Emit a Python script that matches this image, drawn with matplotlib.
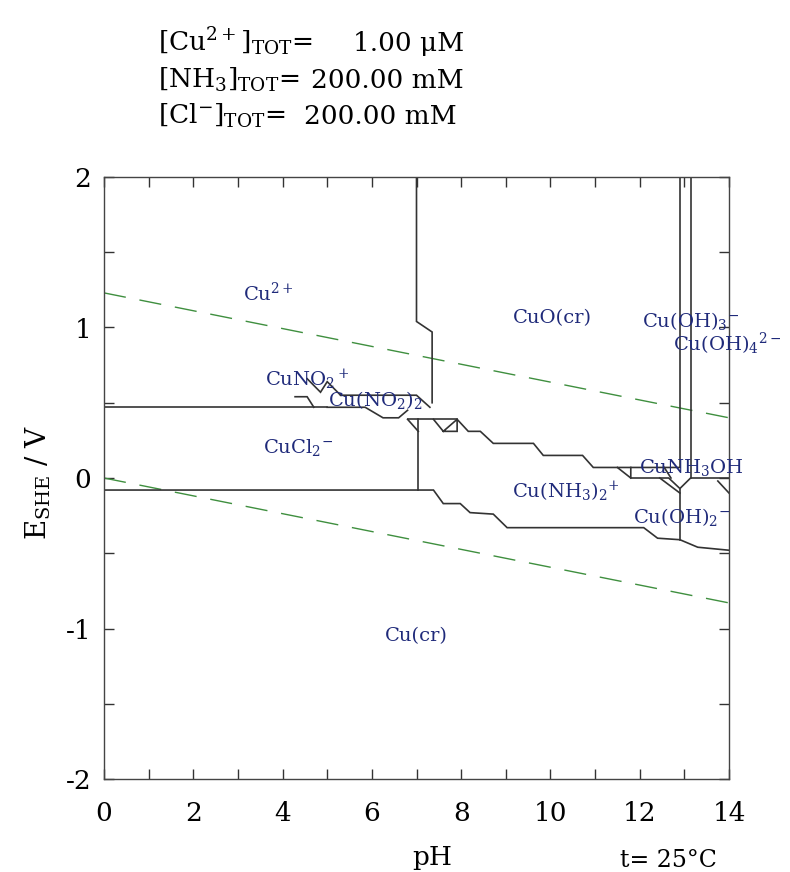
import matplotlib
matplotlib.use('Agg')
import matplotlib.pyplot as plt
from matplotlib.ticker import MultipleLocator

plt.rcParams['font.family'] = ['DejaVu Serif']
plt.rcParams['mathtext.fontset'] = 'dejavuserif'

# ---------------- data ----------------
# water stability lines (pH, E)
water_ph = [0, 14]
o2_e = [1.23, 0.40]
h2_e = [0.00, -0.83]

# predominance boundaries (pH list, E list)
cu2_cucl2_ph = [0, 5.0]
cu2_cucl2_e = [0.47, 0.47]

cu_lower_ph = [0, 7.38, 7.6, 7.98, 8.2, 8.72, 9.03, 12.09, 12.4, 12.9, 13.3, 14.0]
cu_lower_e = [-0.08, -0.08, -0.17, -0.17, -0.23, -0.24, -0.33, -0.33, -0.40, -0.41, -0.46, -0.48]

cu2_cuo_ph = [7.0, 7.0, 7.35, 7.35]
cu2_cuo_e = [2.0, 1.04, 0.97, 0.50]

cuno2_a_ph = [4.28, 4.55, 4.7]
cuno2_a_e = [0.54, 0.54, 0.47]
cuno2_b_ph = [4.55, 4.85, 5.0, 5.3]
cuno2_b_e = [0.66, 0.57, 0.64, 0.55]

cuno22_top_ph = [5.3, 7.0, 7.3]
cuno22_top_e = [0.55, 0.55, 0.47]
cuno22_bot_ph = [5.0, 5.85, 6.25, 6.6, 6.8]
cuno22_bot_e = [0.47, 0.47, 0.40, 0.40, 0.45]

step039_ph = [6.8, 7.91]
step039_e = [0.39, 0.39]
diag704_ph = [6.8, 7.04]
diag704_e = [0.39, 0.31]
v704_ph = [7.04, 7.04]
v704_e = [0.39, -0.08]

tri_ph = [7.38, 7.6, 7.91, 7.91, 7.6]
tri_e = [0.39, 0.31, 0.31, 0.39, 0.31]

cu_upper_ph = [7.91, 8.16, 8.43, 8.72, 9.62, 9.84, 10.72, 10.96, 12.9]
cu_upper_e = [0.39, 0.31, 0.31, 0.23, 0.23, 0.15, 0.15, 0.07, 0.07]

box_diag_ph = [11.5, 11.8]
box_diag_e = [0.07, 0.00]
box_ph = [11.8, 11.8, 12.65, 12.9, 13.14, 14.0]
box_e = [0.07, 0.00, 0.00, -0.07, 0.00, 0.00]
small_diag_ph = [12.55, 12.7]
small_diag_e = [0.07, 0.00]
nh3_oh_ph = [12.45, 12.9]
nh3_oh_e = [0.00, -0.10]

v129_ph = [12.9, 12.9]
v129_e = [2.0, 0.07]
v1314_ph = [13.14, 13.14]
v1314_e = [2.0, 0.00]
v129_low_ph = [12.9, 12.9]
v129_low_e = [-0.07, -0.41]
edge_diag_ph = [13.75, 14.0]
edge_diag_e = [-0.02, -0.10]

boundaries = [
    (cu2_cucl2_ph, cu2_cucl2_e), (cu_lower_ph, cu_lower_e), (cu2_cuo_ph, cu2_cuo_e),
    (cuno2_a_ph, cuno2_a_e), (cuno2_b_ph, cuno2_b_e), (cuno22_top_ph, cuno22_top_e),
    (cuno22_bot_ph, cuno22_bot_e), (step039_ph, step039_e), (diag704_ph, diag704_e),
    (v704_ph, v704_e), (tri_ph, tri_e), (cu_upper_ph, cu_upper_e),
    (box_diag_ph, box_diag_e), (box_ph, box_e), (small_diag_ph, small_diag_e),
    (nh3_oh_ph, nh3_oh_e), (v129_ph, v129_e), (v1314_ph, v1314_e),
    (v129_low_ph, v129_low_e), (edge_diag_ph, edge_diag_e),
]

# species labels
species_names = [r'Cu$^{2+}$', 'CuO(cr)', r'Cu(OH)$_3$$^{-}$', r'Cu(OH)$_4$$^{2-}$',
                 r'CuNO$_2$$^+$', r'Cu(NO$_2$)$_2$', r'CuCl$_2$$^{-}$', r'CuNH$_3$OH',
                 r'Cu(NH$_3$)$_2$$^{+}$', r'Cu(OH)$_2$$^{-}$', 'Cu(cr)']
species_ph = [3.12, 9.16, 12.05, 12.75, 3.6, 5.02, 3.56, 11.98, 9.14, 11.85, 6.3]
species_e = [1.23, 1.06, 1.04, 0.89, 0.65, 0.52, 0.20, 0.07, -0.09, -0.26, -1.05]

header_labels = [r'$[\mathrm{Cu}^{2+}]_{\mathrm{TOT}}$=', r'$[\mathrm{NH}_3]_{\mathrm{TOT}}$=',
                 r'$[\mathrm{Cl}^{-}]_{\mathrm{TOT}}$=']
header_values = ['1.00 μM', '200.00 mM', '200.00 mM']

x_ticks = [0, 2, 4, 6, 8, 10, 12, 14]
y_ticks = [-2, -1, 0, 1, 2]

# ---------------- figure ----------------
W, H = 790, 872
fig = plt.figure(figsize=(W / 100, H / 100), dpi=100)
ax = fig.add_axes([104 / W, 1 - 779 / H, 625 / W, 602 / H])

line_col = '#333333'
green = '#3f8f3f'
navy = '#1f2a7a'

ax.plot(water_ph, o2_e, color=green, lw=1.0, linestyle=(0, (16, 10)))
ax.plot(water_ph, h2_e, color=green, lw=1.0, linestyle=(0, (16, 10)))
for xs, ys in boundaries:
    ax.plot(xs, ys, color=line_col, lw=1.2, solid_joinstyle='miter')

for name, xp, yp in zip(species_names, species_ph, species_e):
    ax.text(xp, yp, name, color=navy, fontsize=14, ha='left', va='center', clip_on=False)

ax.set_xlim(0, 14)
ax.set_ylim(-2, 2)
ax.set_xticks(x_ticks)
ax.set_yticks(y_ticks)
ax.set_yticklabels([str(v) for v in y_ticks])
ax.xaxis.set_minor_locator(MultipleLocator(1))
ax.yaxis.set_minor_locator(MultipleLocator(0.5))
ax.tick_params(which='both', direction='in', top=True, right=True, length=7,
               width=1.0, color='#333333')
ax.tick_params(axis='x', which='major', labelsize=19, pad=16)
ax.tick_params(axis='y', which='major', labelsize=19, pad=9)
for sp in ax.spines.values():
    sp.set_color('#444444')
    sp.set_linewidth(1.0)

# axis labels
fig.text(38 / W, 1 - 482 / H, r'E$_{\mathrm{SHE}}$ / V', rotation=90, fontsize=20,
         ha='center', va='center')
fig.text(432 / W, 1 - 857 / H, 'pH', fontsize=19, ha='center', va='center')
fig.text(668 / W, 1 - 860 / H, 't= 25°C', fontsize=17, ha='center', va='center')

# header
base_y = [51, 88, 124]
value_gap = [40, 12, 18]
fig.canvas.draw()
renderer = fig.canvas.get_renderer()
for lab, val, by, gap in zip(header_labels, header_values, base_y, value_gap):
    t = fig.text(158 / W, 1 - by / H, lab, fontsize=19, ha='left', va='baseline')
    bb = t.get_window_extent(renderer=renderer)
    fig.text((bb.x1 + gap) / W, 1 - by / H, val, fontsize=19, ha='left', va='baseline')

fig.savefig('out.png', dpi=100)
